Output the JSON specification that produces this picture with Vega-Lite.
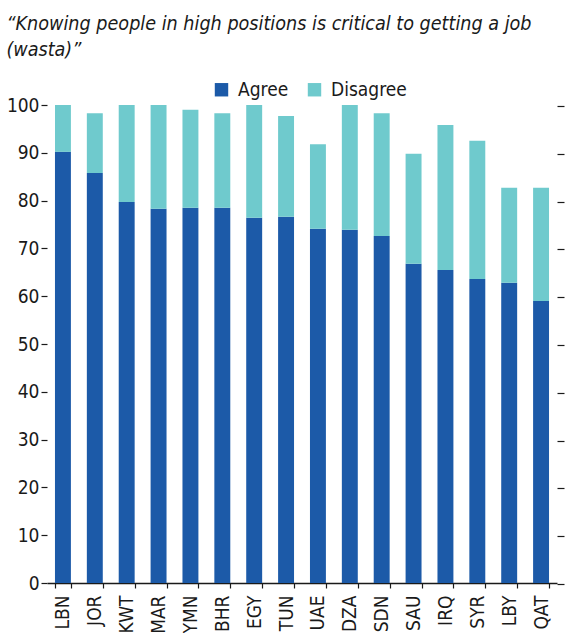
{
  "$schema": "https://vega.github.io/schema/vega-lite/v6.json",
  "width": 510,
  "height": 478,
  "autosize": {"type": "none"},
  "padding": {"left": 47, "top": 105, "right": 10, "bottom": 50},
  "background": "white",
  "title": {
    "text": ["“Knowing people in high positions is critical to getting a job", "(wasta)”"],
    "anchor": "start",
    "frame": "bounds",
    "font": "DejaVu Sans Condensed, Roboto, sans-serif",
    "fontStyle": "italic",
    "fontWeight": "normal",
    "fontSize": 19.6,
    "lineHeight": 26,
    "color": "#1a1a1a",
    "offset": 19
  },
  "config": {
    "view": {"stroke": null},
    "font": "DejaVu Sans Condensed, Roboto, sans-serif"
  },
  "data": {
    "values": [
      {"country": "LBN", "response": "Agree", "value": 90.2},
      {"country": "LBN", "response": "Disagree", "value": 9.8},
      {"country": "JOR", "response": "Agree", "value": 85.8},
      {"country": "JOR", "response": "Disagree", "value": 12.5},
      {"country": "KWT", "response": "Agree", "value": 79.7},
      {"country": "KWT", "response": "Disagree", "value": 20.3},
      {"country": "MAR", "response": "Agree", "value": 78.3},
      {"country": "MAR", "response": "Disagree", "value": 21.7},
      {"country": "YMN", "response": "Agree", "value": 78.5},
      {"country": "YMN", "response": "Disagree", "value": 20.5},
      {"country": "BHR", "response": "Agree", "value": 78.5},
      {"country": "BHR", "response": "Disagree", "value": 19.8},
      {"country": "EGY", "response": "Agree", "value": 76.4},
      {"country": "EGY", "response": "Disagree", "value": 23.6},
      {"country": "TUN", "response": "Agree", "value": 76.6},
      {"country": "TUN", "response": "Disagree", "value": 21.1},
      {"country": "UAE", "response": "Agree", "value": 74.1},
      {"country": "UAE", "response": "Disagree", "value": 17.7},
      {"country": "DZA", "response": "Agree", "value": 73.9},
      {"country": "DZA", "response": "Disagree", "value": 26.1},
      {"country": "SDN", "response": "Agree", "value": 72.6},
      {"country": "SDN", "response": "Disagree", "value": 25.7},
      {"country": "SAU", "response": "Agree", "value": 66.8},
      {"country": "SAU", "response": "Disagree", "value": 23.0},
      {"country": "IRQ", "response": "Agree", "value": 65.5},
      {"country": "IRQ", "response": "Disagree", "value": 30.3},
      {"country": "SYR", "response": "Agree", "value": 63.6},
      {"country": "SYR", "response": "Disagree", "value": 28.9},
      {"country": "LBY", "response": "Agree", "value": 62.8},
      {"country": "LBY", "response": "Disagree", "value": 19.9},
      {"country": "QAT", "response": "Agree", "value": 59.0},
      {"country": "QAT", "response": "Disagree", "value": 23.7}
    ]
  },
  "encoding": {
    "x": {
      "field": "country",
      "type": "nominal",
      "sort": null,
      "scale": {"paddingInner": 0.5, "paddingOuter": 0.25},
      "axis": {
        "title": null,
        "labelAngle": 270,
        "labelAlign": "right",
        "labelBaseline": "middle",
        "labelFontSize": 19,
        "labelColor": "#1a1a1a",
        "labelPadding": 7,
        "tickBand": "extent",
        "tickSize": 5,
        "tickColor": "#1a1a1a",
        "tickWidth": 1.2,
        "domainColor": "#1a1a1a",
        "domainWidth": 1.5
      }
    },
    "y": {
      "field": "value",
      "type": "quantitative",
      "stack": "zero",
      "scale": {"domain": [0, 100], "nice": false}
    },
    "color": {
      "field": "response",
      "type": "nominal",
      "scale": {"domain": ["Agree", "Disagree"], "range": ["#1c5aa8", "#6fcacd"]},
      "legend": {
        "title": null,
        "orient": "none",
        "legendX": 165,
        "legendY": -25,
        "direction": "horizontal",
        "symbolType": "square",
        "symbolSize": 180,
        "symbolStrokeWidth": 0,
        "symbolOpacity": 1,
        "labelFontSize": 19,
        "labelColor": "#1a1a1a",
        "labelOffset": 7,
        "columnPadding": 16
      }
    },
    "order": {"field": "response", "sort": "ascending"}
  },
  "layer": [
    {
      "mark": {"type": "bar"},
      "encoding": {
        "y": {
          "field": "value",
          "type": "quantitative",
          "stack": "zero",
          "scale": {"domain": [0, 100], "nice": false},
          "axis": {
            "title": null,
            "values": [0, 10, 20, 30, 40, 50, 60, 70, 80, 90, 100],
            "grid": false,
            "domain": false,
            "tickSize": 6,
            "tickColor": "#1a1a1a",
            "tickWidth": 1.2,
            "labelFontSize": 19,
            "labelColor": "#1a1a1a",
            "labelPadding": 2
          }
        }
      }
    },
    {
      "mark": {"type": "bar", "opacity": 0},
      "encoding": {
        "y": {
          "field": "value",
          "type": "quantitative",
          "stack": "zero",
          "scale": {"domain": [0, 100], "nice": false},
          "axis": {
            "orient": "right",
            "title": null,
            "values": [0, 10, 20, 30, 40, 50, 60, 70, 80, 90, 100],
            "grid": false,
            "domain": false,
            "labels": false,
            "tickSize": 7,
            "tickColor": "#1a1a1a",
            "tickWidth": 1.2,
            "tickOffset": 1
          }
        }
      }
    }
  ],
  "resolve": {"axis": {"y": "independent"}}
}
